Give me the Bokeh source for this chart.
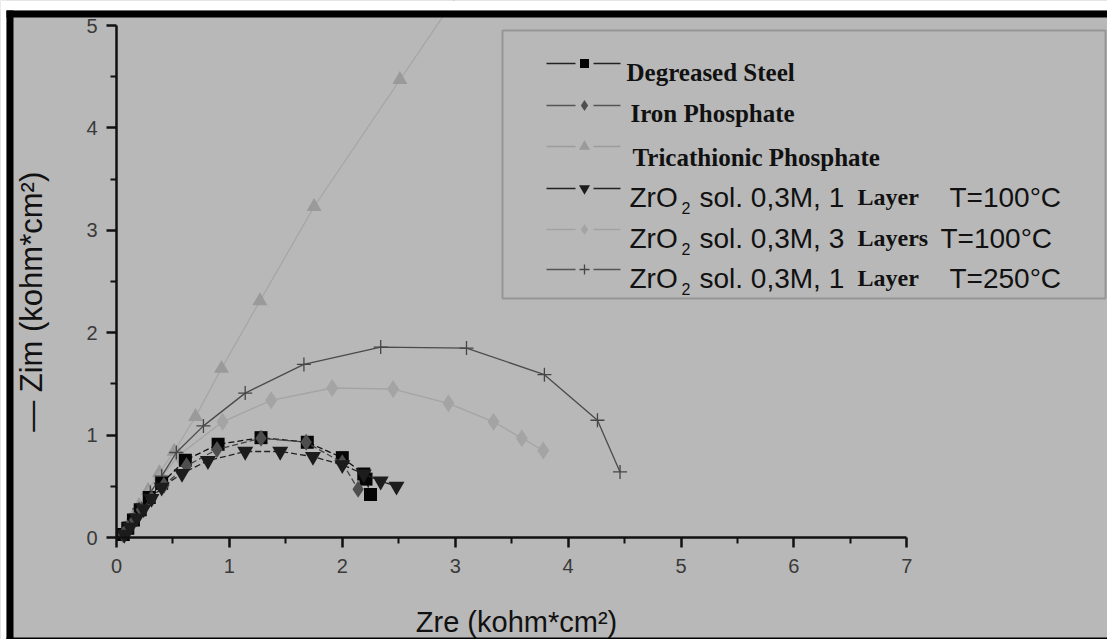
import numpy as np
from bokeh.plotting import figure
from bokeh.models import Label, BoxAnnotation, FixedTicker, Range1d
from bokeh.embed import file_html
from bokeh.resources import INLINE

# ---------------- data ----------------
x_ticks = [0, 1, 2, 3, 4, 5, 6, 7]
x_minor = [0.5, 1.5, 2.5, 3.5, 4.5, 5.5, 6.5]
y_ticks = [0, 1, 2, 3, 4, 5]
y_minor = [0.5, 1.5, 2.5, 3.5, 4.5]

deg_x = [0.06, 0.10, 0.15, 0.21, 0.29, 0.40, 0.61, 0.90, 1.28, 1.69, 2.00, 2.19, 2.21, 2.25]
deg_y = [0.03, 0.09, 0.17, 0.27, 0.39, 0.53, 0.755, 0.91, 0.975, 0.93, 0.78, 0.62, 0.57, 0.42]

iron_x = [0.06, 0.10, 0.16, 0.22, 0.31, 0.42, 0.62, 0.89, 1.28, 1.68, 2.00, 2.14]
iron_y = [0.03, 0.09, 0.17, 0.27, 0.38, 0.51, 0.70, 0.86, 0.97, 0.93, 0.73, 0.47]

tri_x = [0.05, 0.09, 0.14, 0.20, 0.28, 0.38, 0.51, 0.70, 0.93, 1.27, 1.75, 2.51, 3.30]
tri_y = [0.03, 0.10, 0.19, 0.31, 0.46, 0.63, 0.84, 1.18, 1.65, 2.31, 3.23, 4.47, 5.75]

z1_x = [0.07, 0.12, 0.18, 0.24, 0.31, 0.40, 0.58, 0.81, 1.14, 1.45, 1.74, 2.00, 2.19, 2.34, 2.48]
z1_y = [0.03, 0.10, 0.19, 0.28, 0.38, 0.49, 0.625, 0.75, 0.84, 0.84, 0.79, 0.71, 0.62, 0.55, 0.50]

z3_x = [0.05, 0.09, 0.14, 0.20, 0.28, 0.38, 0.55, 0.94, 1.37, 1.91, 2.45, 2.94, 3.34, 3.59, 3.78]
z3_y = [0.03, 0.09, 0.17, 0.28, 0.41, 0.57, 0.80, 1.13, 1.34, 1.46, 1.45, 1.31, 1.13, 0.97, 0.85]

z250_x = [0.06, 0.12, 0.20, 0.30, 0.40, 0.53, 0.77, 1.14, 1.66, 2.34, 3.10, 3.79, 4.26, 4.46]
z250_y = [0.05, 0.15, 0.28, 0.44, 0.60, 0.83, 1.09, 1.41, 1.69, 1.86, 1.85, 1.59, 1.145, 0.64]

# ---------------- layout ----------------
W, H = 1107, 639
OX, OY = 116, 537          # canvas pixel of the data origin
UX, UY = 112.9, 102.4      # pixels per data unit
BG = "#b8b8b8"
SANS = "Liberation Sans"
SERIF = "Liberation Serif"

p = figure(width=W, height=H, output_backend="svg", toolbar_location=None,
           x_range=Range1d(-OX / UX, (W - OX) / UX),
           y_range=Range1d(-(H - OY) / UY, OY / UY),
           min_border=0, min_border_left=0, min_border_right=0,
           min_border_top=0, min_border_bottom=0,
           background_fill_color=BG, border_fill_color=BG,
           outline_line_color=None)
p.grid.visible = False

for ax, tk, mn, bd in ((p.xaxis, x_ticks, x_minor, (0, 7)), (p.yaxis, y_ticks, y_minor, (0, 5))):
    ax.ticker = FixedTicker(ticks=tk, minor_ticks=mn)
    ax.bounds = bd
    ax.fixed_location = 0
    ax.axis_line_width = 2.5
    ax.axis_line_color = "#111111"
    ax.major_tick_line_width = 2.5
    ax.major_tick_line_color = "#111111"
    ax.minor_tick_line_width = 2
    ax.minor_tick_line_color = "#111111"
    ax.major_tick_out = 10
    ax.major_tick_in = 0
    ax.minor_tick_out = 6
    ax.minor_tick_in = 0
    ax.major_label_text_font = SANS
    ax.major_label_text_font_size = "20px"
    ax.major_label_text_color = "#3a3a3a"
p.xaxis.major_label_standoff = 11
p.yaxis.major_label_standoff = 9

# ---------------- series ----------------
p.line(tri_x, tri_y, line_color="#a6a6a6", line_width=1.3)
p.scatter(tri_x, tri_y, marker="triangle", size=15, fill_color="#9a9a9a", line_color=None)

p.line(z3_x, z3_y, line_color="#a4a4a4", line_width=1.3)
p.scatter(z3_x, z3_y, marker="diamond", size=18, fill_color="#a4a4a4", line_color=None)

p.line(z250_x, z250_y, line_color="#4a4a4a", line_width=1.3)
p.scatter(z250_x, z250_y, marker="cross", size=14, line_color="#454545", line_width=1.3)

p.line(deg_x, deg_y, line_color="#111111", line_width=1.3, line_dash="6 3")
p.scatter(deg_x, deg_y, marker="square", size=13, fill_color="#050505", line_color=None)

p.line(iron_x, iron_y, line_color="#444444", line_width=1.3, line_dash="6 3")
p.scatter(iron_x, iron_y, marker="diamond", size=17, fill_color="#4e4e4e", line_color=None)

p.line(z1_x, z1_y, line_color="#222222", line_width=1.3, line_dash="6 3")
p.scatter(z1_x, z1_y, marker="inverted_triangle", size=16, fill_color="#1c1c1c", line_color=None)

# ---------------- decorations (canvas pixels) ----------------
def box(l, r, t, b, color):
    p.add_layout(BoxAnnotation(left=l, right=r, top=t, bottom=b,
                               left_units="canvas", right_units="canvas",
                               top_units="canvas", bottom_units="canvas",
                               fill_color=color, fill_alpha=1, line_color=None,
                               level="overlay"))

box(0, W, 0, 10, "white")
box(0, 6, 0, H, "white")
box(6, W, 10, 17, "black")
box(6, 13, 10, H, "black")
box(6, W, 637, H, "black")

# legend frame
p.add_layout(BoxAnnotation(left=502, right=1105, top=30, bottom=298,
                           left_units="canvas", right_units="canvas",
                           top_units="canvas", bottom_units="canvas",
                           fill_alpha=0, line_color="#4a4a4a", line_width=2))

def lab(x, y, text, size, font=SANS, bold=False, color="#111111", align="left",
        baseline="alphabetic", angle=0):
    p.add_layout(Label(x=x, y=y, x_units="canvas", y_units="canvas", text=text,
                       text_font=font, text_font_size=f"{size}px",
                       text_font_style="bold" if bold else "normal",
                       text_color=color, text_align=align, text_baseline=baseline,
                       angle=angle))

# axis titles
lab(516, 621, "Zre (kohm*cm\u00b2)", 29, align="center")
lab(31, 297, "\u2014  Zim (kohm*cm\u00b2)", 31, align="center", baseline="middle",
    angle=np.pi / 2)

# legend samples (pixel -> data helpers)
def dx(px):
    return (px - OX) / UX
def dy(py):
    return (OY - py) / UY

leg = [
    ("#222222", "square", 9, "#050505", 63),
    ("#555555", "diamond", 11, "#4e4e4e", 105),
    ("#9c9c9c", "triangle", 11, "#9a9a9a", 146),
    ("#222222", "inverted_triangle", 11, "#1c1c1c", 188),
    ("#a2a2a2", "diamond", 11, "#a4a4a4", 229),
    ("#555555", "cross", 10, "#454545", 269),
]
for lc, mk, sz, fc, py in leg:
    p.line([dx(546), dx(575)], [dy(py), dy(py)], line_color=lc, line_width=1.5)
    p.line([dx(593), dx(620)], [dy(py), dy(py)], line_color=lc, line_width=1.5)
    if mk == "cross":
        p.scatter([dx(584)], [dy(py)], marker=mk, size=sz, line_color=fc, line_width=1.3)
    else:
        p.scatter([dx(584)], [dy(py)], marker=mk, size=sz, fill_color=fc, line_color=None)

lab(626, 72, "Degreased Steel", 25, font=SERIF, bold=True)
lab(630, 113, "Iron Phosphate", 25, font=SERIF, bold=True)
lab(632, 157, "Tricathionic Phosphate", 25, font=SERIF, bold=True)

rows = [(197, "1", "Layer", 949, "T=100\u00b0C"),
        (238, "3", "Layers", 940, "T=100\u00b0C"),
        (278, "1", "Layer", 949, "T=250\u00b0C")]
for base, n, word, tx, temp in rows:
    lab(629, base, "ZrO", 28)
    lab(681, base + 10, "2", 16)
    lab(699, base, f"sol. 0,3M, {n}", 28)
    lab(857, base - 1, word, 24, font=SERIF, bold=True)
    lab(tx, base, temp, 28)

open("out.html", "w").write(file_html(p, INLINE))
